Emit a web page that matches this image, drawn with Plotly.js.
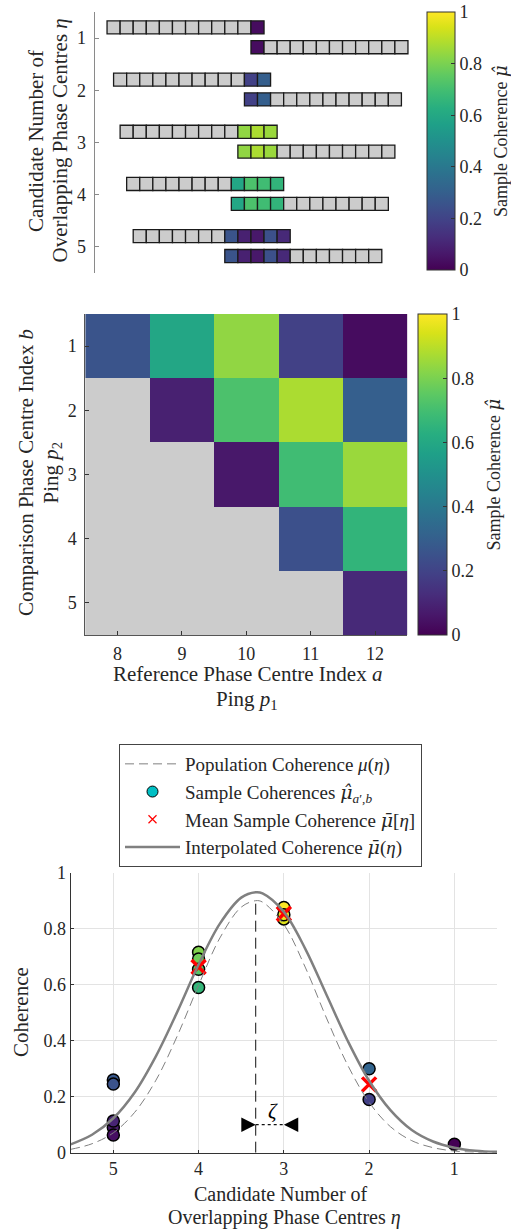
<!DOCTYPE html>
<html>
<head>
<meta charset="utf-8">
<script src="https://cdn.plot.ly/plotly-3.0.1.min.js"></script>
<style>html,body{margin:0;padding:0;background:#fff;}#chart{width:511px;height:1230px;}</style>
</head>
<body>
<div id="chart"></div>
<script>
// ---------------- DATA ----------------
const refIdx = [8, 9, 10, 11, 12];          // reference phase centre index a (ping p1)
const compIdx = [1, 2, 3, 4, 5];            // comparison phase centre index b (ping p2)
const nPhaseCentres = 12;
// sample coherence, rows = b (1..5), cols = a (8..12); null = not evaluated
const coherence = [
  [0.26, 0.59, 0.835, 0.19, 0.03],
  [null, 0.09, 0.716, 0.876, 0.30],
  [null, null, 0.063, 0.692, 0.85],
  [null, null, null, 0.245, 0.655],
  [null, null, null, null, 0.113]
];
const etaValues = [1, 2, 3, 4, 5];
const meanEta = [4, 3, 2];
const meanCoh = [0.663, 0.853, 0.244];
const curveEta = [5.5, 5.25, 5.0, 4.75, 4.5, 4.25, 4.0, 3.75, 3.5, 3.33, 3.25, 3.0, 2.75, 2.5, 2.25, 2.0, 1.75, 1.5, 1.25, 1.0, 0.75, 0.5];
const populationCoh = [0.012, 0.032, 0.071, 0.144, 0.259, 0.417, 0.598, 0.767, 0.877, 0.900, 0.895, 0.815, 0.663, 0.481, 0.312, 0.180, 0.093, 0.043, 0.018, 0.006, 0.002, 0.001];
const interpCoh = [0.030, 0.064, 0.123, 0.215, 0.345, 0.503, 0.672, 0.818, 0.911, 0.930, 0.926, 0.860, 0.729, 0.564, 0.399, 0.257, 0.152, 0.081, 0.040, 0.018, 0.007, 0.003];
const peakEta = 3.33, peakCoh = 0.91;
const zetaY = 0.1;
const tickLabels01 = ['0', '0.2', '0.4', '0.6', '0.8', '1'];
const tickVals01 = [0, 0.2, 0.4, 0.6, 0.8, 1];

// ---------------- STYLE ----------------
const FONT = "'Liberation Serif', 'Times New Roman', serif";
const TXT = '#262626';
const GRAY_CELL = '#cccccc';
const MUHAT = '<span style="font-family:DejaVu Serif"><i>μ̂</i></span>';
const MUBAR = '<span style="font-family:DejaVu Serif"><i>μ̄</i></span>';
const viridis = [[0,'#440154'],[0.0627,'#48186a'],[0.1255,'#472d7b'],[0.1882,'#424086'],[0.2510,'#3b528b'],[0.3137,'#33638d'],[0.3765,'#2c728e'],[0.4392,'#26828e'],[0.5020,'#21918c'],[0.5647,'#1fa088'],[0.6275,'#28ae80'],[0.6902,'#3fbc73'],[0.7529,'#5ec962'],[0.8157,'#84d44b'],[0.8784,'#addc30'],[0.9412,'#d8e219'],[1,'#fde725']];
function hex2rgb(h){return [parseInt(h.substr(1,2),16),parseInt(h.substr(3,2),16),parseInt(h.substr(5,2),16)];}
function vcol(v){
  v = Math.max(0, Math.min(1, v));
  for (let i = 1; i < viridis.length; i++) {
    if (v <= viridis[i][0]) {
      const t = (v - viridis[i-1][0]) / (viridis[i][0] - viridis[i-1][0]);
      const a = hex2rgb(viridis[i-1][1]), b = hex2rgb(viridis[i][1]);
      return 'rgb(' + a.map((c,k)=>Math.round(c + t*(b[k]-c))).join(',') + ')';
    }
  }
  return viridis[viridis.length-1][1];
}
function coh(a, b){ return coherence[b-1][a-refIdx[0]]; }

// ---------------- TOP PANEL (strips as shapes) ----------------
const shapes = [];
etaValues.forEach(eta => {
  for (let i = 1; i <= nPhaseCentres; i++) {
    const cx = i - nPhaseCentres + eta/2 - 0.5;
    const colored = i > nPhaseCentres - eta;
    const v = colored ? coh(i, i - nPhaseCentres + eta) : null;
    shapes.push({type:'rect', xref:'x', yref:'y', x0:cx-0.5, x1:cx+0.5, y0:eta-0.33, y1:eta-0.08,
      fillcolor: colored ? vcol(v) : GRAY_CELL, line:{color:'#1a1a1a', width:1.3}});
    const cx2 = i - eta/2 - 0.5;
    const colored2 = i <= eta;
    const v2 = colored2 ? coh(nPhaseCentres - eta + i, i) : null;
    shapes.push({type:'rect', xref:'x', yref:'y', x0:cx2-0.5, x1:cx2+0.5, y0:eta+0.05, y1:eta+0.30,
      fillcolor: colored2 ? vcol(v2) : GRAY_CELL, line:{color:'#1a1a1a', width:1.3}});
  }
});
shapes.push({type:'rect', xref:'x2 domain', yref:'y2 domain', x0:0, x1:1, y0:0, y1:1, fillcolor:GRAY_CELL, line:{width:0}, layer:'below'});

// ---------------- SAMPLE POINTS ----------------
const ptEta = [], ptCoh = [];
compIdx.forEach(b => refIdx.forEach(a => {
  const v = coh(a, b);
  if (v !== null) { ptEta.push(nPhaseCentres - a + b); ptCoh.push(v); }
}));

const cbCommon = {
  tickvals: tickVals01, ticktext: tickLabels01, ticks:'inside', ticklen:4, tickcolor:'#333',
  outlinewidth:1, outlinecolor:'#333', xpad:0, ypad:0, xanchor:'left', yanchor:'middle',
  thicknessmode:'pixels', lenmode:'fraction', tickfont:{family:FONT, size:18, color:TXT}
};

const traces = [
  { type:'scatter', x:[null], y:[null], xaxis:'x', yaxis:'y', mode:'markers', showlegend:false, hoverinfo:'skip',
    marker:{color:[0], cmin:0, cmax:1, colorscale:viridis, showscale:true,
      colorbar:Object.assign({}, cbCommon, {x:426.7/511, y:1-141/1230, len:258/1230, thickness:28})} },
  { type:'heatmap', x:refIdx, y:compIdx, z:coherence, xaxis:'x2', yaxis:'y2', zmin:0, zmax:1, colorscale:viridis,
    hoverongaps:false, showscale:true,
    colorbar:Object.assign({}, cbCommon, {x:418.3/511, y:1-474.5/1230, len:321/1230, thickness:29}) },
  { type:'scatter', x:ptEta, y:ptCoh, xaxis:'x3', yaxis:'y3', mode:'markers', showlegend:false,
    marker:{size:12, color:ptCoh, colorscale:viridis, line:{color:'#000', width:1.5}} },
  { type:'scatter', x:meanEta, y:meanCoh, xaxis:'x3', yaxis:'y3', mode:'markers', showlegend:false,
    marker:{symbol:'x-thin', size:14, color:'#ff0000', line:{color:'#ff0000', width:3.5}} },
  { type:'scatter', x:curveEta, y:populationCoh, xaxis:'x3', yaxis:'y3', mode:'lines', line:{color:'#808080', width:1, dash:'9px,5px', shape:'spline'},
    name:'Population Coherence <i>μ</i>(<i>η</i>)', legendrank:1 },
  { type:'scatter', x:curveEta, y:interpCoh, xaxis:'x3', yaxis:'y3', mode:'lines', line:{color:'#808080', width:2.5, shape:'spline'},
    name:'Interpolated Coherence ' + MUBAR + '(<i>η</i>)', legendrank:4 },
  { type:'scatter', x:[null], y:[null], xaxis:'x3', yaxis:'y3', mode:'markers',
    marker:{size:11, color:'#00bfc4', line:{color:'#000', width:1}},
    name:'Sample Coherences ' + MUHAT + '<sub><i>a</i>′,<i>b</i></sub>', legendrank:2 },
  { type:'scatter', x:[null], y:[null], xaxis:'x3', yaxis:'y3', mode:'markers',
    marker:{symbol:'x-thin', size:8, color:'#ff0000', line:{color:'#ff0000', width:1.2}},
    name:'Mean Sample Coherence ' + MUBAR + '[<i>η</i>]', legendrank:3 },
  { type:'scatter', x:[peakEta, peakEta], y:[0, peakCoh], xaxis:'x3', yaxis:'y3', mode:'lines', showlegend:false,
    line:{color:'#111', width:1, dash:'11px,6px'} },
  { type:'scatter', x:[peakEta, 3], y:[zetaY, zetaY], xaxis:'x3', yaxis:'y3', mode:'lines', showlegend:false,
    line:{color:'#111', width:1.2, dash:'dot'} }
];

const axFont = {family:FONT, size:18, color:TXT};
const TF = {family:FONT, size:21, color:TXT};
const TF2 = {family:FONT, size:20, color:TXT};
const CBF = {family:FONT, size:18, color:TXT};
function pann(text, px, py, angle, font){
  return {xref:'paper', yref:'paper', x:px/511, y:1-py/1230, xanchor:'center', yanchor:'middle',
    textangle:angle, showarrow:false, text:text, font:font};
}
const layout = {
  width:511, height:1230, margin:{l:0, r:0, t:0, b:0},
  paper_bgcolor:'#fff', plot_bgcolor:'#fff',
  font:{family:FONT, color:TXT, size:18},
  showlegend:true,
  legend:{x:119/511, y:1-744/1230, xanchor:'left', yanchor:'top', bgcolor:'#fff', bordercolor:'#444', borderwidth:1,
    font:{family:FONT, size:19, color:TXT}, itemwidth:55, traceorder:'normal'},
  xaxis:{domain:[95/511, 420/511], range:[-12.42, 12.42], visible:false, fixedrange:true},
  yaxis:{domain:[1-273/1230, 1-12/1230], range:[5.5, 0.5], tickvals:etaValues, ticktext:etaValues.map(String),
    showline:true, linecolor:'#8a8a8a', linewidth:1.5, ticks:'inside', ticklen:4, tickcolor:'#8a8a8a', ticklabelstandoff:4,
    showgrid:false, zeroline:false, tickfont:axFont, anchor:'x'},
  xaxis2:{domain:[85.3/511, 407.3/511], range:[7.5, 12.5], tickvals:refIdx, ticktext:refIdx.map(String),
    showline:true, linecolor:'#555', linewidth:1, ticks:'inside', ticklen:4, tickcolor:'#333', ticklabelstandoff:2,
    showgrid:false, zeroline:false, tickfont:axFont, anchor:'y2'},
  yaxis2:{domain:[1-635/1230, 1-314/1230], range:[5.5, 0.5], tickvals:compIdx, ticktext:compIdx.map(String),
    showline:true, linecolor:'#555', linewidth:1, ticks:'inside', ticklen:4, tickcolor:'#333', ticklabelstandoff:4,
    showgrid:false, zeroline:false, tickfont:axFont, anchor:'x2'},
  xaxis3:{domain:[70.7/511, 497/511], range:[5.5, 0.5], tickvals:etaValues, ticktext:etaValues.map(String),
    showline:true, linecolor:'#333', linewidth:1, ticks:'inside', ticklen:3, tickcolor:'#333', ticklabelstandoff:0,
    showgrid:true, gridcolor:'#e3e3e3', gridwidth:1, zeroline:false, tickfont:axFont, anchor:'y3'},
  yaxis3:{domain:[1-1152.7/1230, 1-872.7/1230], range:[0, 1], tickvals:tickVals01, ticktext:tickLabels01,
    showline:true, linecolor:'#333', linewidth:1, ticks:'inside', ticklen:3, tickcolor:'#333',
    showgrid:true, gridcolor:'#e3e3e3', gridwidth:1, zeroline:false, tickfont:axFont, anchor:'x3'},
  shapes: shapes,
  annotations:[
    pann('Candidate Number of', 36, 141, -90, TF),
    pann('Overlapping Phase Centres <i>η</i>', 59.5, 141, -90, TF),
    pann('Sample Coherence ' + MUHAT, 500, 141, -90, CBF),
    pann('Comparison Phase Centre Index <i>b</i>', 26, 473, -90, TF),
    pann('Ping <i>p</i><sub>2</sub>', 51.5, 473, -90, TF),
    pann('Sample Coherence ' + MUHAT, 493, 474.5, -90, CBF),
    pann('Reference Phase Centre Index <i>a</i>', 247, 674, 0, TF),
    pann('Ping <i>p</i><sub>1</sub>', 247, 700, 0, TF),
    pann('Coherence', 21, 1012, -90, TF),
    pann('Candidate Number of', 281, 1194, 0, TF2),
    pann('Overlapping Phase Centres <i>η</i>', 284, 1217.5, 0, TF2),
    {xref:'x3', yref:'y3', x:peakEta, y:zetaY, ax:3.5, ay:zetaY, axref:'x3', ayref:'y3', text:'', showarrow:true,
      arrowhead:2, arrowsize:2.4, arrowwidth:1.2, arrowcolor:'#000'},
    {xref:'x3', yref:'y3', x:3, y:zetaY, ax:2.82, ay:zetaY, axref:'x3', ayref:'y3', text:'', showarrow:true,
      arrowhead:2, arrowsize:2.4, arrowwidth:1.2, arrowcolor:'#000'},
    {xref:'x3', yref:'y3', x:3.13, y:0.148, xanchor:'center', yanchor:'middle', text:'<i>ζ</i>', showarrow:false, font:{family:FONT, size:21, color:'#000'}}
  ]
};

Plotly.newPlot('chart', traces, layout, {staticPlot:true, displayModeBar:false});
</script>
</body>
</html>
